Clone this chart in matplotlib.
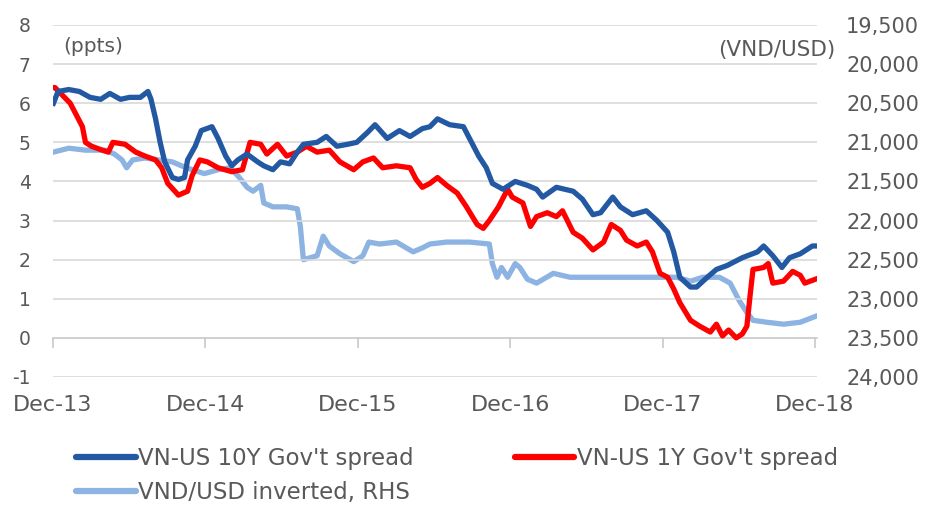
import matplotlib
matplotlib.use('Agg')
import matplotlib.pyplot as plt
from matplotlib.lines import Line2D
from matplotlib.ticker import FuncFormatter

# 시간축: 소수 연도 (Dec-13 = 2013.917)
ten_year_t = [2013.92, 2013.95, 2014.02, 2014.09, 2014.16, 2014.23, 2014.29, 2014.36, 2014.42, 2014.49,
              2014.54, 2014.56, 2014.59, 2014.62, 2014.65, 2014.70, 2014.74, 2014.78, 2014.80, 2014.85,
              2014.89, 2014.96, 2015.00, 2015.05, 2015.09, 2015.13, 2015.19, 2015.26, 2015.30, 2015.36,
              2015.41, 2015.47, 2015.52, 2015.56, 2015.65, 2015.71, 2015.78, 2015.85, 2015.91, 2015.98,
              2016.03, 2016.11, 2016.19, 2016.26, 2016.34, 2016.39, 2016.44, 2016.52, 2016.61, 2016.65,
              2016.71, 2016.76, 2016.80, 2016.87, 2016.95, 2017.03, 2017.09, 2017.13, 2017.22, 2017.33,
              2017.39, 2017.46, 2017.51, 2017.59, 2017.64, 2017.72, 2017.81, 2017.88, 2017.95, 2017.99,
              2018.03, 2018.10, 2018.14, 2018.21, 2018.27, 2018.34, 2018.44, 2018.54, 2018.58, 2018.64,
              2018.70, 2018.75, 2018.82, 2018.90, 2018.92]
ten_year = [6.0, 6.3, 6.35, 6.3, 6.15, 6.1, 6.25, 6.1, 6.15, 6.15,
            6.3, 6.1, 5.6, 5.0, 4.5, 4.1, 4.05, 4.1, 4.55, 4.9,
            5.3, 5.4, 5.1, 4.65, 4.4, 4.55, 4.7, 4.5, 4.4, 4.3,
            4.5, 4.45, 4.75, 4.95, 5.0, 5.15, 4.9, 4.95, 5.0, 5.25,
            5.45, 5.1, 5.3, 5.15, 5.35, 5.4, 5.6, 5.45, 5.4, 5.1,
            4.65, 4.35, 3.95, 3.8, 4.0, 3.9, 3.8, 3.6, 3.85, 3.75,
            3.55, 3.15, 3.2, 3.6, 3.35, 3.15, 3.25, 3.0, 2.7, 2.2,
            1.55, 1.3, 1.3, 1.55, 1.75, 1.85, 2.05, 2.2, 2.35, 2.1,
            1.8, 2.05, 2.15, 2.35, 2.35]

one_year_t = [2013.92, 2013.93, 2013.98, 2014.03, 2014.07, 2014.11, 2014.13, 2014.17, 2014.24, 2014.28,
              2014.31, 2014.39, 2014.46, 2014.52, 2014.59, 2014.63, 2014.67, 2014.74, 2014.80, 2014.83,
              2014.88, 2014.93, 2015.00, 2015.09, 2015.16, 2015.21, 2015.28, 2015.32, 2015.39, 2015.45,
              2015.52, 2015.58, 2015.65, 2015.73, 2015.80, 2015.89, 2015.95, 2016.02, 2016.08, 2016.17,
              2016.26, 2016.30, 2016.34, 2016.39, 2016.44, 2016.50, 2016.57, 2016.63, 2016.70, 2016.74,
              2016.78, 2016.84, 2016.90, 2016.93, 2017.00, 2017.05, 2017.09, 2017.16, 2017.22, 2017.26,
              2017.33, 2017.39, 2017.46, 2017.53, 2017.58, 2017.64, 2017.68, 2017.75, 2017.81, 2017.85,
              2017.90, 2017.95, 2017.99, 2018.03, 2018.10, 2018.16, 2018.23, 2018.27, 2018.31, 2018.35,
              2018.40, 2018.44, 2018.47, 2018.49, 2018.51, 2018.58, 2018.61, 2018.64, 2018.71, 2018.77,
              2018.82, 2018.85, 2018.92]
one_year = [6.4, 6.4, 6.2, 6.0, 5.7, 5.4, 5.0, 4.9, 4.8, 4.75,
            5.0, 4.95, 4.75, 4.65, 4.55, 4.35, 3.95, 3.65, 3.75, 4.15,
            4.55, 4.5, 4.35, 4.25, 4.3, 5.0, 4.95, 4.7, 4.95, 4.65,
            4.75, 4.9, 4.75, 4.8, 4.5, 4.3, 4.5, 4.6, 4.35, 4.4,
            4.35, 4.05, 3.85, 3.95, 4.1, 3.9, 3.7, 3.35, 2.9, 2.8,
            3.0, 3.35, 3.8, 3.6, 3.45, 2.85, 3.1, 3.2, 3.1, 3.25,
            2.7, 2.55, 2.25, 2.45, 2.9, 2.75, 2.5, 2.35, 2.45, 2.2,
            1.65, 1.55, 1.25, 0.9, 0.45, 0.3, 0.15, 0.35, 0.05, 0.2,
            0.0, 0.1, 0.3, 1.05, 1.75, 1.8, 1.9, 1.4, 1.45, 1.7,
            1.6, 1.4, 1.5]

vnd_t = [2013.92, 2014.02, 2014.13, 2014.26, 2014.32, 2014.37, 2014.40, 2014.44, 2014.52, 2014.61,
         2014.70, 2014.76, 2014.83, 2014.91, 2015.00, 2015.08, 2015.14, 2015.19, 2015.23, 2015.28,
         2015.30, 2015.36, 2015.45, 2015.52, 2015.54, 2015.56, 2015.65, 2015.69, 2015.73, 2015.80,
         2015.89, 2015.95, 2015.99, 2016.06, 2016.17, 2016.28, 2016.34, 2016.39, 2016.50, 2016.65,
         2016.78, 2016.80, 2016.83, 2016.86, 2016.90, 2016.95, 2016.98, 2017.03, 2017.09, 2017.20,
         2017.31, 2017.46, 2017.64, 2017.79, 2018.01, 2018.10, 2018.18, 2018.29, 2018.36, 2018.42,
         2018.47, 2018.51, 2018.60, 2018.71, 2018.82, 2018.92]
vnd_usd = [21125, 21075, 21100, 21100, 21150, 21225, 21325, 21225, 21200, 21225,
           21250, 21300, 21350, 21400, 21350, 21325, 21450, 21575, 21625, 21550,
           21775, 21825, 21825, 21850, 22075, 22500, 22450, 22200, 22325, 22425,
           22525, 22450, 22275, 22300, 22275, 22400, 22350, 22300, 22275, 22275,
           22300, 22550, 22725, 22600, 22725, 22550, 22600, 22750, 22800, 22675,
           22725, 22725, 22725, 22725, 22725, 22775, 22725, 22725, 22800, 23025,
           23175, 23275, 23300, 23325, 23300, 23225]

x_ticks = [2013.917, 2014.917, 2015.917, 2016.917, 2017.917, 2018.917]
x_labels = ['Dec-13', 'Dec-14', 'Dec-15', 'Dec-16', 'Dec-17', 'Dec-18']
left_ticks = [-1, 0, 1, 2, 3, 4, 5, 6, 7, 8]
right_ticks = [19500, 20000, 20500, 21000, 21500, 22000, 22500, 23000, 23500, 24000]

labels = ["VN-US 10Y Gov't spread", "VN-US 1Y Gov't spread", "VND/USD inverted, RHS"]

DARK = '#2359a3'
RED = '#ff0000'
LIGHT = '#8db3e2'
TEXT = '#595959'
GRID = '#d9d9d9'

plt.rcParams['font.family'] = 'DejaVu Sans'
plt.rcParams['axes.unicode_minus'] = False

fig = plt.figure(figsize=(9.28, 5.09), dpi=100)
ax = fig.add_axes([53 / 928, 1 - 377 / 509, 764 / 928, 352 / 509])
ax2 = ax.twinx()

ax.set_xlim(2013.917, 2018.93)
ax.set_ylim(-1, 8)
ax2.set_ylim(24000, 19500)

# 격자선 (0은 축선)
for v in left_ticks:
    if v != 0:
        ax.axhline(v, color=GRID, lw=1.2, zorder=0)

for s in ['top', 'left', 'right']:
    ax.spines[s].set_visible(False)
    ax2.spines[s].set_visible(False)
ax2.spines['bottom'].set_visible(False)
ax.spines['bottom'].set_position(('data', 0))
ax.spines['bottom'].set_color('#c8c8c8')
ax.spines['bottom'].set_linewidth(1.2)

ax.set_xticks(x_ticks)
ax.set_xticklabels(x_labels)
ax.tick_params(axis='x', direction='out', length=7, width=1.2, color='#c8c8c8',
               pad=34, labelsize=16, labelcolor=TEXT)
ax.set_yticks(left_ticks)
ax.tick_params(axis='y', length=0, pad=16, labelsize=13.5, labelcolor=TEXT)
ax2.set_yticks(right_ticks)
ax2.yaxis.set_major_formatter(FuncFormatter(lambda v, p: f'{int(v):,}'))
ax2.tick_params(axis='y', length=0, pad=21, labelsize=15, labelcolor=TEXT)

ax2.plot(vnd_t, vnd_usd, color=LIGHT, lw=3.8, solid_joinstyle='round', zorder=2)
ax.plot(one_year_t, one_year, color=RED, lw=3.8, solid_joinstyle='round', zorder=3)
ax.plot(ten_year_t, ten_year, color=DARK, lw=3.8, solid_joinstyle='round', zorder=4)
ax.set_zorder(ax2.get_zorder() + 1)
ax.patch.set_visible(False)

fig.text(63 / 928, 1 - 47 / 509, '(ppts)', fontsize=14.5, color=TEXT, va='center', ha='left')
fig.text(835 / 928, 1 - 50 / 509, '(VND/USD)', fontsize=15.5, color=TEXT, va='center', ha='right')

handles = [Line2D([], [], color=DARK, lw=4.5, solid_capstyle='round'),
           Line2D([], [], color=LIGHT, lw=4.5, solid_capstyle='round'),
           Line2D([], [], color=RED, lw=4.5, solid_capstyle='round')]
fig.legend(handles, [labels[0], labels[2], labels[1]], ncol=2, frameon=False,
           loc='upper left', bbox_to_anchor=(76 / 928, 1 - 447 / 509),
           fontsize=16.5, handlelength=2.6, handletextpad=0.12, columnspacing=4.4,
           labelspacing=0.5, borderpad=0, borderaxespad=0, labelcolor=TEXT)

fig.savefig('out.png', dpi=100)
